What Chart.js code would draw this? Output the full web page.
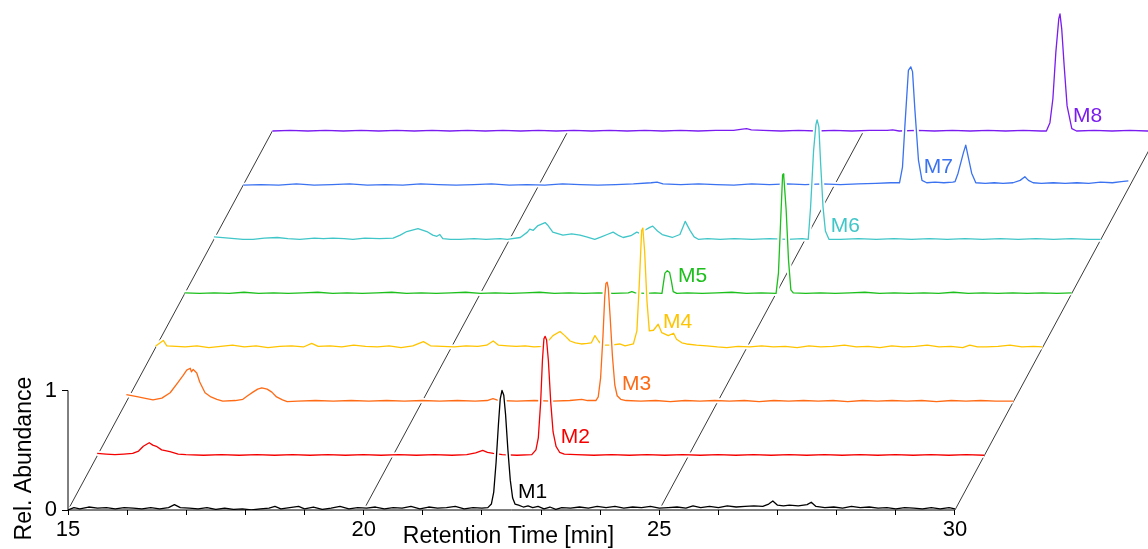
<!DOCTYPE html>
<html lang="en">
<head>
<meta charset="UTF-8">
<title>Chromatograms M1-M8</title>
<script src="https://cdn.jsdelivr.net/npm/chart.js"></script>
<style>
  html, body { margin: 0; padding: 0; background: #fff; }
  #wrap { width: 1148px; height: 549px; }
</style>
</head>
<body>
<div id="wrap"><canvas id="chrom" width="1148" height="549"></canvas></div>
<script>
// retention time [min] and relative abundance of each trace
const m1Time = [15.0, 15.1, 15.2, 15.35, 15.5, 15.65, 15.8, 15.95, 16.1, 16.25, 16.4, 16.55, 16.7, 16.8, 16.9, 17.05, 17.2, 17.35, 17.5, 17.65, 17.8, 17.95, 18.1, 18.25, 18.4, 18.5, 18.6, 18.75, 18.9, 19.0, 19.15, 19.3, 19.45, 19.6, 19.75, 19.9, 20.05, 20.2, 20.35, 20.5, 20.65, 20.8, 20.95, 21.1, 21.25, 21.4, 21.55, 21.7, 21.85, 22.0, 22.1, 22.16, 22.2, 22.24, 22.28, 22.31, 22.34, 22.37, 22.4, 22.44, 22.48, 22.52, 22.56, 22.62, 22.7, 22.78, 22.86, 22.95, 23.05, 23.15, 23.25, 23.35, 23.5, 23.65, 23.8, 23.95, 24.1, 24.25, 24.4, 24.55, 24.7, 24.85, 25.0, 25.15, 25.3, 25.45, 25.57, 25.7, 25.85, 26.0, 26.15, 26.3, 26.45, 26.6, 26.75, 26.85, 26.92, 27.0, 27.1, 27.2, 27.35, 27.5, 27.57, 27.65, 27.8, 27.95, 28.1, 28.25, 28.4, 28.55, 28.7, 28.85, 29.0, 29.15, 29.3, 29.45, 29.6, 29.75, 29.9, 30.0];
const m1Abund = [0.0, 0.02, 0.01, 0.025, 0.015, 0.02, 0.01, 0.02, 0.015, 0.01, 0.02, 0.01, 0.02, 0.045, 0.02, 0.015, 0.01, 0.02, 0.005, 0.015, 0.005, 0.01, 0.0, 0.01, 0.015, 0.03, 0.01, 0.02, 0.03, 0.01, 0.025, 0.005, 0.015, 0.03, 0.01, 0.02, 0.015, 0.025, 0.01, 0.02, 0.015, 0.03, 0.01, 0.025, 0.015, 0.02, 0.03, 0.01, 0.02, 0.015, 0.02, 0.05, 0.15, 0.4, 0.72, 0.93, 1.0, 0.96, 0.8, 0.5, 0.25, 0.1, 0.05, 0.04, 0.025, 0.035, 0.02, 0.03, 0.01, 0.025, 0.005, 0.02, 0.015, 0.025, 0.015, 0.03, 0.02, 0.03, 0.015, 0.025, 0.02, 0.03, 0.015, 0.02, 0.025, 0.015, 0.035, 0.02, 0.03, 0.02, 0.035, 0.025, 0.03, 0.035, 0.03, 0.05, 0.075, 0.04, 0.035, 0.04, 0.035, 0.045, 0.065, 0.03, 0.02, 0.025, 0.015, 0.03, 0.02, 0.025, 0.015, 0.02, 0.01, 0.02, 0.015, 0.01, 0.02, 0.01, 0.02, 0.01];

const m2Time = [15.0, 15.15, 15.3, 15.45, 15.6, 15.7, 15.78, 15.88, 15.94, 16.0, 16.09, 16.23, 16.37, 16.5, 16.8, 17.1, 17.4, 17.7, 18.0, 18.3, 18.6, 18.9, 19.2, 19.5, 19.8, 20.1, 20.4, 20.7, 21.0, 21.25, 21.4, 21.52, 21.6, 21.7, 21.85, 22.1, 22.35, 22.42, 22.46, 22.5, 22.53, 22.555, 22.575, 22.6, 22.63, 22.67, 22.71, 22.76, 22.82, 22.9, 23.1, 23.4, 23.7, 24.0, 24.3, 24.6, 24.9, 25.2, 25.5, 25.8, 26.1, 26.4, 26.7, 27.0, 27.3, 27.6, 27.9, 28.2, 28.5, 28.8, 29.1, 29.4, 29.7, 30.0];
const m2Abund = [0.02, 0.015, 0.01, 0.015, 0.02, 0.04, 0.08, 0.11, 0.09, 0.08, 0.05, 0.035, 0.015, 0.01, 0.005, 0.01, 0.005, 0.01, 0.005, 0.01, 0.005, 0.01, 0.005, 0.01, 0.005, 0.01, 0.005, 0.01, 0.005, 0.01, 0.025, 0.045, 0.03, 0.02, 0.01, 0.005, 0.01, 0.05, 0.15, 0.45, 0.8, 0.98, 1.0, 0.97, 0.8, 0.45, 0.2, 0.08, 0.03, 0.015, 0.01, 0.005, 0.01, 0.005, 0.01, 0.005, 0.01, 0.005, 0.01, 0.005, 0.01, 0.005, 0.01, 0.005, 0.01, 0.005, 0.01, 0.005, 0.01, 0.005, 0.01, 0.005, 0.01, 0.005];

const m3Time = [15.0, 15.2, 15.3, 15.45, 15.6, 15.74, 15.87, 15.96, 16.02, 16.08, 16.1, 16.13, 16.19, 16.24, 16.33, 16.43, 16.53, 16.63, 16.84, 16.97, 17.05, 17.14, 17.22, 17.29, 17.38, 17.46, 17.54, 17.64, 17.72, 17.9, 18.2, 18.5, 18.8, 19.1, 19.4, 19.7, 20.0, 20.3, 20.6, 20.9, 21.1, 21.2, 21.3, 21.6, 21.9, 22.2, 22.5, 22.7, 22.8, 22.94, 22.98, 23.02, 23.06, 23.09, 23.11, 23.13, 23.15, 23.18, 23.22, 23.26, 23.3, 23.36, 23.45, 23.7, 23.95, 24.2, 24.45, 24.7, 24.95, 25.2, 25.45, 25.7, 25.95, 26.2, 26.45, 26.7, 26.95, 27.2, 27.45, 27.7, 27.95, 28.2, 28.45, 28.7, 28.95, 29.2, 29.45, 29.7, 30.0];
const m3Abund = [0.06, 0.04, 0.03, 0.015, 0.03, 0.075, 0.16, 0.22, 0.265, 0.28, 0.25, 0.27, 0.24, 0.165, 0.075, 0.04, 0.02, 0.005, 0.01, 0.02, 0.05, 0.08, 0.105, 0.115, 0.105, 0.08, 0.04, 0.015, 0.0, 0.005, 0.01, 0.005, 0.01, 0.005, 0.01, 0.005, 0.01, 0.005, 0.01, 0.005, 0.01, 0.025, 0.01, 0.005, 0.01, 0.005, 0.01, 0.02, 0.01, 0.01, 0.04, 0.2, 0.55, 0.88, 0.99, 1.0, 0.95, 0.72, 0.38, 0.14, 0.05, 0.02, 0.01, 0.005, 0.01, 0.0, 0.01, 0.005, 0.01, 0.005, 0.01, 0.0, 0.01, 0.005, 0.01, 0.005, 0.01, 0.0, 0.01, 0.005, 0.01, 0.005, 0.01, 0.0, 0.01, 0.005, 0.01, 0.005, 0.005];

const m4Time = [15.0, 15.02, 15.13, 15.19, 15.35, 15.5, 15.7, 15.9, 16.1, 16.3, 16.5, 16.7, 16.9, 17.1, 17.3, 17.5, 17.64, 17.75, 17.95, 18.15, 18.35, 18.55, 18.75, 18.95, 19.15, 19.35, 19.53, 19.65, 19.85, 20.05, 20.25, 20.45, 20.6, 20.71, 20.8, 20.95, 21.1, 21.25, 21.4, 21.55, 21.65, 21.72, 21.84, 21.92, 22.01, 22.1, 22.2, 22.3, 22.37, 22.43, 22.49, 22.55, 22.7, 22.85, 22.94, 23.08, 23.14, 23.18, 23.22, 23.24, 23.27, 23.31, 23.35, 23.42, 23.5, 23.56, 23.67, 23.76, 23.81, 23.9, 23.98, 24.15, 24.32, 24.5, 24.66, 24.85, 25.05, 25.25, 25.45, 25.65, 25.85, 26.05, 26.25, 26.45, 26.65, 26.85, 27.05, 27.25, 27.45, 27.65, 27.85, 28.05, 28.25, 28.45, 28.65, 28.77, 28.9, 29.05, 29.25, 29.45, 29.65, 29.85, 30.0];
const m4Abund = [0.01, 0.02, 0.06, 0.015, 0.01, 0.005, 0.015, 0.0, 0.01, 0.02, 0.005, 0.015, 0.0, 0.01, 0.015, 0.005, 0.035, 0.01, 0.015, 0.005, 0.02, 0.01, 0.005, 0.015, 0.0, 0.015, 0.05, 0.015, 0.01, 0.005, 0.015, 0.01, 0.02, 0.055, 0.02, 0.015, 0.01, 0.015, 0.005, 0.01, 0.06, 0.1, 0.135, 0.1, 0.055, 0.04, 0.03, 0.035, 0.04, 0.1, 0.055, 0.02, 0.02, 0.03, 0.015, 0.03, 0.14, 0.53, 0.98, 1.0, 0.81, 0.39, 0.14, 0.145, 0.195, 0.125, 0.1, 0.12, 0.07, 0.04, 0.03, 0.02, 0.015, 0.005, 0.0, 0.01, 0.005, 0.015, 0.005, 0.01, 0.0, 0.015, 0.005, 0.01, 0.02, 0.005, 0.01, 0.0, 0.015, 0.005, 0.01, 0.02, 0.005, 0.01, 0.0, 0.02, 0.005, 0.005, 0.01, 0.02, 0.005, 0.01, 0.005];

const m5Time = [15.0, 15.25, 15.5, 15.75, 16.0, 16.25, 16.5, 16.75, 17.0, 17.25, 17.5, 17.75, 18.0, 18.25, 18.5, 18.75, 19.0, 19.25, 19.5, 19.75, 20.0, 20.25, 20.5, 20.75, 21.0, 21.25, 21.5, 21.75, 22.0, 22.25, 22.5, 22.56, 22.62, 22.8, 22.95, 23.07, 23.09, 23.12, 23.16, 23.2, 23.23, 23.26, 23.32, 23.5, 23.75, 24.0, 24.25, 24.5, 24.75, 25.0, 25.04, 25.08, 25.11, 25.12, 25.13, 25.17, 25.21, 25.25, 25.29, 25.5, 25.75, 26.0, 26.25, 26.5, 26.75, 27.0, 27.25, 27.5, 27.75, 28.0, 28.25, 28.5, 28.75, 29.0, 29.25, 29.5, 29.75, 30.0];
const m5Abund = [0.005, 0.0, 0.005, 0.0, 0.01, 0.0, 0.005, 0.0, 0.005, 0.01, 0.0, 0.005, 0.0, 0.005, 0.01, 0.0, 0.005, 0.0, 0.005, 0.01, 0.0, 0.005, 0.0, 0.005, 0.01, 0.0, 0.005, 0.0, 0.005, 0.0, 0.005, 0.015, 0.005, 0.0, 0.005, 0.0, 0.07, 0.17, 0.19, 0.175, 0.1, 0.015, 0.0, 0.005, 0.0, 0.005, 0.01, 0.0, 0.005, 0.0, 0.17, 0.64, 0.99, 1.0, 0.98, 0.7, 0.28, 0.03, 0.005, 0.0, 0.005, 0.0, 0.005, 0.01, 0.0, 0.005, 0.0, 0.005, 0.0, 0.01, 0.0, 0.005, 0.0, 0.005, 0.0, 0.005, 0.0, 0.005];

const m6Time = [15.0, 15.25, 15.49, 15.66, 15.85, 16.07, 16.25, 16.45, 16.7, 16.85, 17.01, 17.2, 17.35, 17.55, 17.8, 18.03, 18.15, 18.26, 18.45, 18.6, 18.7, 18.77, 18.82, 18.87, 19.0, 19.16, 19.4, 19.6, 19.84, 19.96, 20.18, 20.3, 20.34, 20.4, 20.48, 20.6, 20.65, 20.73, 20.9, 21.05, 21.19, 21.3, 21.44, 21.55, 21.65, 21.75, 21.85, 21.92, 22.05, 22.15, 22.2, 22.3, 22.37, 22.42, 22.5, 22.58, 22.75, 22.88, 22.93, 22.97, 23.05, 23.12, 23.19, 23.35, 23.56, 23.8, 24.1, 24.4, 24.7, 24.95, 25.05, 25.09, 25.14, 25.18, 25.2, 25.23, 25.26, 25.3, 25.34, 25.4, 25.6, 25.9, 26.2, 26.5, 26.8, 27.1, 27.4, 27.7, 28.0, 28.3, 28.6, 28.9, 29.2, 29.5, 29.8, 30.0];
const m6Abund = [0.02, 0.01, 0.0, 0.0, 0.01, 0.015, 0.005, 0.0, 0.01, 0.005, 0.01, 0.005, 0.0, 0.01, 0.005, 0.01, 0.035, 0.065, 0.09, 0.065, 0.035, 0.025, 0.04, 0.005, 0.0, 0.0, 0.005, 0.0, 0.005, 0.0, 0.015, 0.06, 0.085, 0.075, 0.115, 0.14, 0.115, 0.06, 0.035, 0.045, 0.035, 0.02, 0.0, 0.02, 0.04, 0.06, 0.03, 0.015, 0.03, 0.06, 0.05, 0.08, 0.1, 0.11, 0.07, 0.04, 0.015, 0.04, 0.1, 0.15, 0.075, 0.02, 0.0, 0.005, 0.0, 0.005, 0.0, 0.005, 0.0, 0.005, 0.0, 0.27, 0.74, 0.96, 1.0, 0.94, 0.63, 0.27, 0.07, 0.0, 0.0, 0.005, 0.0, 0.005, 0.0, 0.005, 0.0, 0.005, 0.0, 0.005, 0.0, 0.005, 0.0, 0.005, 0.0, 0.0];

const m7Time = [15.0, 15.3, 15.6, 15.9, 16.2, 16.5, 16.8, 17.1, 17.4, 17.7, 18.0, 18.3, 18.6, 18.9, 19.2, 19.5, 19.8, 20.1, 20.4, 20.7, 21.0, 21.3, 21.6, 21.9, 22.0, 22.1, 22.4, 22.7, 23.0, 23.3, 23.6, 23.9, 24.2, 24.5, 24.8, 25.1, 25.4, 25.7, 25.95, 26.1, 26.15, 26.19, 26.25, 26.29, 26.32, 26.36, 26.42, 26.48, 26.56, 26.7, 26.85, 27.0, 27.04, 27.09, 27.18, 27.22, 27.26, 27.32, 27.39, 27.55, 27.7, 27.85, 28.02, 28.14, 28.22, 28.28, 28.36, 28.5, 28.7, 28.9, 29.1, 29.3, 29.5, 29.7, 29.85, 29.97];
const m7Abund = [0.0, 0.005, 0.0, 0.01, 0.0, 0.005, 0.01, 0.0, 0.005, 0.0, 0.01, 0.005, 0.0, 0.005, 0.01, 0.0, 0.005, 0.0, 0.01, 0.005, 0.0, 0.005, 0.01, 0.02, 0.025, 0.01, 0.005, 0.01, 0.005, 0.0, 0.01, 0.005, 0.01, 0.005, 0.01, 0.005, 0.01, 0.015, 0.02, 0.02, 0.15, 0.49, 0.96, 0.99, 0.95, 0.63, 0.21, 0.04, 0.02, 0.025, 0.02, 0.025, 0.03, 0.1, 0.27, 0.335, 0.24, 0.1, 0.02, 0.015, 0.02, 0.015, 0.02, 0.04, 0.07, 0.04, 0.02, 0.015, 0.02, 0.015, 0.02, 0.015, 0.025, 0.02, 0.03, 0.035];

const m8Time = [15.0, 15.3, 15.6, 15.9, 16.2, 16.5, 16.8, 17.1, 17.4, 17.7, 18.0, 18.3, 18.6, 18.9, 19.2, 19.5, 19.8, 20.1, 20.4, 20.7, 21.0, 21.3, 21.6, 21.9, 22.2, 22.5, 22.8, 22.95, 23.02, 23.1, 23.3, 23.6, 23.9, 24.2, 24.5, 24.8, 25.1, 25.4, 25.49, 25.6, 25.9, 26.2, 26.5, 26.8, 27.1, 27.4, 27.7, 28.0, 28.09, 28.15, 28.2, 28.25, 28.3, 28.32, 28.35, 28.39, 28.44, 28.52, 28.6, 28.9, 29.2, 29.5, 29.8, 30.0];
const m8Abund = [0.0, 0.005, 0.0, 0.005, 0.0, 0.005, 0.0, 0.005, 0.0, 0.005, 0.0, 0.005, 0.0, 0.005, 0.0, 0.005, 0.0, 0.005, 0.0, 0.005, 0.0, 0.005, 0.0, 0.005, 0.0, 0.005, 0.005, 0.015, 0.02, 0.01, 0.005, 0.0, 0.005, 0.0, 0.005, 0.0, 0.005, 0.005, 0.01, 0.0, 0.005, 0.0, 0.005, 0.0, 0.005, 0.0, 0.005, 0.0, 0.0, 0.07, 0.27, 0.66, 0.94, 0.98, 0.85, 0.55, 0.21, 0.02, 0.0, 0.005, 0.0, 0.005, 0.0, 0.0];

const traceNames = ['M1', 'M2', 'M3', 'M4', 'M5', 'M6', 'M7', 'M8'];
const traceColors = ['#000000', '#f40000', '#ff6a14', '#ffc400', '#1cbf1c', '#40c6c8', '#3a72f0', '#7a1cf0'];
const xTickLabels = [15, 20, 25, 30];
const yTickLabels = [0, 1];
// label anchor for each trace, in that trace's own time / abundance
const labelTime = [22.61, 22.84, 23.38, 23.58, 23.34, 25.43, 26.51, 28.54];
const labelAbund = [0.15, 0.16, 0.15, 0.21, 0.14, 0.11, 0.15, 0.125];

const allTime = [m1Time, m2Time, m3Time, m4Time, m5Time, m6Time, m7Time, m8Time];
const allAbund = [m1Abund, m2Abund, m3Abund, m4Abund, m5Abund, m6Abund, m7Abund, m8Abund];

// each trace sits one step back and to the right of the one in front
const stepX = 0.4938;
const stepY = 0.4531;
const font = '"Liberation Sans", Arial, sans-serif';

const datasets = [];
allTime.forEach((times, k) => {
    const pts = () => times.map((t, i) => ({ x: t + k * stepX, y: allAbund[k][i] + k * stepY }));
    // white halo hides the traces behind
    datasets.push({ data: pts(), borderColor: '#ffffff', borderWidth: 5, order: 11 + 10 * k });
    datasets.push({ data: pts(), borderColor: traceColors[k], borderWidth: 1.3, order: 10 + 10 * k });
});
// receding grid lines at 15, 20, 25, 30
xTickLabels.forEach(t => {
    datasets.push({
        data: [{ x: t, y: 0 }, { x: t + 7 * stepX, y: 7 * stepY }],
        borderColor: '#222', borderWidth: 0.9, order: 200
    });
});
// axis lines, only as long as the front trace
datasets.push({ data: [{ x: 15, y: 0 }, { x: 30, y: 0 }], borderColor: '#000', borderWidth: 1, order: 0, clip: false });
datasets.push({ data: [{ x: 15, y: 0 }, { x: 15, y: 1 }], borderColor: '#000', borderWidth: 1, order: 0, clip: false });

const textLayer = {
    id: 'textLayer',
    afterDatasetsDraw(chart) {
        const { ctx, scales: { x, y } } = chart;
        ctx.save();
        ctx.textBaseline = 'middle';
        ctx.textAlign = 'left';
        ctx.font = '21px ' + font;
        traceNames.forEach((name, k) => {
            ctx.fillStyle = traceColors[k];
            ctx.fillText(name, x.getPixelForValue(labelTime[k] + k * stepX), y.getPixelForValue(labelAbund[k] + k * stepY));
        });
        ctx.fillStyle = '#000';
        ctx.font = '23px ' + font;
        ctx.textAlign = 'center';
        ctx.fillText('Retention Time [min]', x.getPixelForValue(22.45), 537);
        ctx.translate(25, y.getPixelForValue(0.43));
        ctx.rotate(-Math.PI / 2);
        ctx.fillText('Rel. Abundance', 0, 0);
        ctx.restore();
    }
};

new Chart(document.getElementById('chrom'), {
    type: 'line',
    data: { datasets: datasets },
    options: {
        responsive: false,
        animation: false,
        events: [],
        layout: { padding: 0 },
        elements: { point: { radius: 0 }, line: { tension: 0, borderJoinStyle: 'round' } },
        plugins: { legend: { display: false }, tooltip: { enabled: false } },
        scales: {
            x: {
                type: 'linear', min: 15, max: 33.265,
                afterBuildTicks: s => {
                    s.ticks = [];
                    for (let v = 15; v <= 30; v++) s.ticks.push({ value: v });
                },
                afterFit: s => { s.height = 39; s.paddingLeft = 0; s.paddingRight = 0; },
                ticks: {
                    autoSkip: false, maxRotation: 0, padding: 2, color: '#000',
                    font: { family: font, size: 22 },
                    callback: v => xTickLabels.includes(v) ? String(v) : ''
                },
                grid: { drawOnChartArea: false, tickLength: 5, tickColor: '#000' },
                border: { display: false }
            },
            y: {
                type: 'linear', min: 0, max: 4.268,
                afterBuildTicks: s => { s.ticks = yTickLabels.map(v => ({ value: v })); },
                afterFit: s => { s.width = 68; s.paddingTop = 0; s.paddingBottom = 0; },
                ticks: { padding: 5, color: '#000', font: { family: font, size: 22 } },
                grid: { drawOnChartArea: false, tickLength: 6, tickColor: '#000' },
                border: { display: false }
            }
        }
    },
    plugins: [textLayer]
});
</script>
</body>
</html>
